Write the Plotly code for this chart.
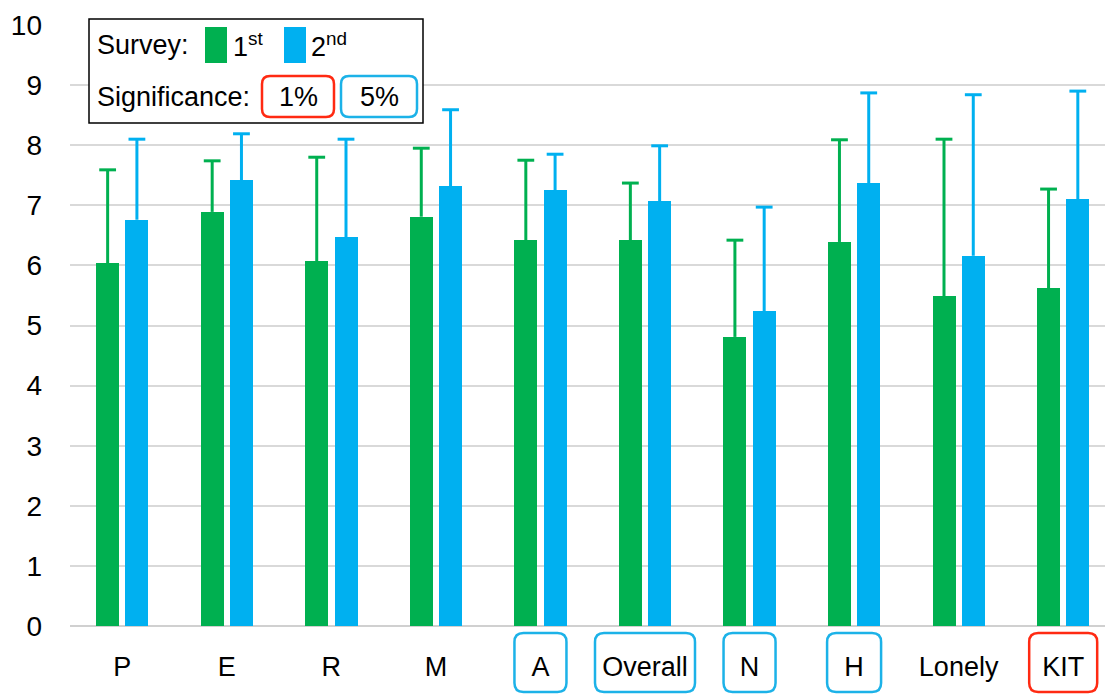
import plotly.graph_objects as go

# Survey scores per scale, first and second survey (mean and upper SD)
categories = ["P", "E", "R", "M", "A", "Overall", "N", "H", "Lonely", "KIT"]
first_mean = [6.04, 6.89, 6.07, 6.81, 6.42, 6.42, 4.81, 6.39, 5.49, 5.62]
first_upper = [7.59, 7.74, 7.80, 7.95, 7.75, 7.37, 6.42, 8.09, 8.10, 7.27]
second_mean = [6.76, 7.42, 6.47, 7.32, 7.25, 7.07, 5.24, 7.37, 6.16, 7.10]
second_upper = [8.10, 8.19, 8.10, 8.59, 7.85, 7.99, 6.97, 8.87, 8.84, 8.90]
# significance level per category ("" = not significant)
significance = ["", "", "", "", "5%", "5%", "5%", "5%", "", "1%"]
y_ticks = [0, 1, 2, 3, 4, 5, 6, 7, 8, 9, 10]

GREEN = "#00b050"
BLUE = "#00b0f0"
RED = "#ff2a12"
SIG_COLORS = {"1%": RED, "5%": "#1cb2e8"}

W, H = 1105, 694
ML, MR, MT, MB = 70, 0, 25, 68
PW, PH = W - ML - MR, H - MT - MB
X_RANGE = [-0.5, 9.4]
BAR_W = 0.22
OFFSETS = [-0.25, 0.03]

xi = list(range(len(categories)))

fig = go.Figure()
for means, uppers, color, off, name in [
    (first_mean, first_upper, GREEN, OFFSETS[0], "1st"),
    (second_mean, second_upper, BLUE, OFFSETS[1], "2nd"),
]:
    fig.add_trace(go.Bar(
        x=xi, y=means, width=BAR_W, offset=off, marker_color=color,
        marker_line_width=0, name=name, showlegend=False,
    ))
    # one-sided whiskers from the bar top up to mean + SD
    centers = [i + off + BAR_W / 2 for i in xi]
    wx, wy = [], []
    for c, m, u in zip(centers, means, uppers):
        wx += [c, c, None]
        wy += [m, u, None]
    fig.add_trace(go.Scatter(
        x=wx, y=wy, mode="lines", line=dict(color=color, width=3),
        showlegend=False, hoverinfo="skip",
    ))
    fig.add_trace(go.Scatter(
        x=centers, y=uppers, mode="markers",
        marker=dict(symbol="line-ew", size=12,
                    line=dict(color=color, width=3)),
        showlegend=False, hoverinfo="skip",
    ))


def px_x(px):
    return (px - ML) / PW


def px_y(py):
    return (H - MB - py) / PH


def cat_px(i):
    return ML + (i - X_RANGE[0]) / (X_RANGE[1] - X_RANGE[0]) * PW


def rounded_box(x0, y0, x1, y1, r, color, width=2.5, fill="rgba(0,0,0,0)"):
    pts = [
        ("M", x0 + r, y0), ("L", x1 - r, y0), ("Q", x1, y0, x1, y0 + r),
        ("L", x1, y1 - r), ("Q", x1, y1, x1 - r, y1), ("L", x0 + r, y1),
        ("Q", x0, y1, x0, y1 - r), ("L", x0, y0 + r), ("Q", x0, y0, x0 + r, y0),
    ]
    path = ""
    for p in pts:
        cmd, coords = p[0], p[1:]
        vals = []
        for k in range(0, len(coords), 2):
            vals.append(f"{px_x(coords[k]):.5f},{px_y(coords[k + 1]):.5f}")
        path += cmd + " ".join(vals) + " "
    path += "Z"
    fig.add_shape(type="path", path=path, xref="paper", yref="paper",
                  line=dict(color=color, width=width), fillcolor=fill,
                  layer="above")


# rounded frames around significant category labels
label_half_w = {"A": 26, "Overall": 50, "N": 26, "H": 27, "KIT": 34}
for i, (cat, sig) in enumerate(zip(categories, significance)):
    if sig:
        cx = cat_px(i)
        hw = label_half_w.get(cat, 30)
        rounded_box(cx - hw, 633, cx + hw, 692, 9, SIG_COLORS[sig])

# legend panel
fig.add_shape(type="rect", xref="paper", yref="paper",
              x0=px_x(89), x1=px_x(423), y0=px_y(123), y1=px_y(19),
              line=dict(color="black", width=1.5), fillcolor="white",
              layer="above")
fig.add_shape(type="rect", xref="paper", yref="paper",
              x0=px_x(205), x1=px_x(227), y0=px_y(63), y1=px_y(27),
              line_width=0, fillcolor=GREEN, layer="above")
fig.add_shape(type="rect", xref="paper", yref="paper",
              x0=px_x(284), x1=px_x(306), y0=px_y(63), y1=px_y(27),
              line_width=0, fillcolor=BLUE, layer="above")
rounded_box(262, 76, 334, 117, 8, RED, width=2.5)
rounded_box(341, 76, 417, 117, 8, SIG_COLORS["5%"], width=2.5)

LFONT = dict(family="Liberation Sans, Arial, sans-serif", size=27, color="black")
legend_texts = [
    (95, 45, "Survey:"),
    (231, 45, "1<sup>st</sup>"),
    (309, 45, "2<sup>nd</sup>"),
    (95, 97, "Significance:"),
]
for x, y, t in legend_texts:
    fig.add_annotation(x=px_x(x), y=px_y(y), xref="paper", yref="paper",
                       text=t, showarrow=False, xanchor="left",
                       yanchor="middle", font=LFONT)
for x, t in [(298, "1%"), (379, "5%")]:
    fig.add_annotation(x=px_x(x), y=px_y(97), xref="paper", yref="paper",
                       text=t, showarrow=False, xanchor="center",
                       yanchor="middle", font=LFONT)

fig.update_layout(
    width=W, height=H,
    margin=dict(l=ML, r=MR, t=MT, b=MB, pad=0),
    paper_bgcolor="white", plot_bgcolor="white",
    bargap=0, barmode="overlay",
    xaxis=dict(
        range=X_RANGE, tickmode="array", tickvals=xi, ticktext=categories,
        showgrid=False, zeroline=False, showline=False, ticks="",
        tickfont=dict(family="Liberation Sans, Arial", size=27, color="black"),
        ticklabelstandoff=22,
    ),
    yaxis=dict(
        range=[0, 10], tickvals=y_ticks, showgrid=True,
        gridcolor="#d9d9d9", gridwidth=1.5, zeroline=True,
        zerolinecolor="#d0d0d0", zerolinewidth=1.5, showline=False,
        tickfont=dict(family="Liberation Sans, Arial", size=28, color="black"),
        ticklabelstandoff=27,
    ),
)

fig.write_html("out.html")
